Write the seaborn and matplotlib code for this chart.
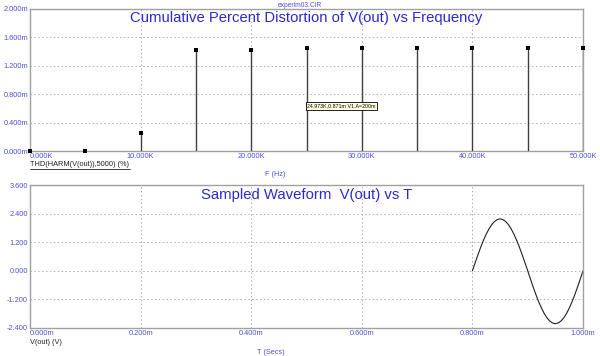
import numpy as np
import pandas as pd
import matplotlib
matplotlib.use("Agg")
import matplotlib.pyplot as plt
from matplotlib.lines import Line2D
import seaborn as sns

# THD vs frequency (stems), values in m%
freq_k = [0, 5, 10, 15, 20, 25, 30, 35, 40, 45, 50]
thd_m = [0.0, 0.005, 0.253, 1.418, 1.422, 1.441, 1.440, 1.440, 1.450, 1.450, 1.450]

# sampled waveform V(out), time in ms
t_ms = [0.800, 0.805, 0.810, 0.815, 0.820, 0.825, 0.830, 0.835, 0.840, 0.845,
        0.850, 0.855, 0.860, 0.865, 0.870, 0.875, 0.880, 0.885, 0.890, 0.895,
        0.900, 0.905, 0.910, 0.915, 0.920, 0.925, 0.930, 0.935, 0.940, 0.945,
        0.950, 0.955, 0.960, 0.965, 0.970, 0.975, 0.980, 0.985, 0.990, 0.995, 1.000]
v_out = [0.00, 0.34, 0.67, 0.99, 1.28, 1.54, 1.76, 1.94, 2.07, 2.15,
         2.18, 2.15, 2.07, 1.94, 1.76, 1.54, 1.28, 0.99, 0.67, 0.34,
         0.00, -0.35, -0.69, -1.01, -1.31, -1.57, -1.80, -1.98, -2.11, -2.19,
         -2.22, -2.19, -2.11, -1.98, -1.80, -1.57, -1.31, -1.01, -0.69, -0.35, 0.00]

thd_ticks = [0.0, 0.4, 0.8, 1.2, 1.6, 2.0]
f_ticks = [0, 10, 20, 30, 40, 50]
v_ticks = [-2.4, -1.2, 0.0, 1.2, 2.4, 3.6]
t_ticks = [0.0, 0.2, 0.4, 0.6, 0.8, 1.0]

sns.set_style("white")
plt.rcParams['font.family'] = ['Liberation Sans', 'DejaVu Sans']

BLUE = "#2a2acc"
TICKC = "#5050d0"
GRID = "#b0b0b0"
FS = 5.3

fig = plt.figure(figsize=(6, 3.56), dpi=100)
ax1 = fig.add_axes([0.05, 0.5758, 0.9217, 0.4002])
ax2 = fig.add_axes([0.05, 0.0787, 0.9217, 0.4016])

def style(ax):
    for s in ax.spines.values():
        s.set_color("#a0a0a0")
        s.set_linewidth(1.0)
    ax.grid(True, color=GRID, linestyle=(0, (1.5, 2.5)), linewidth=0.7)
    ax.tick_params(length=0, labelsize=FS, labelcolor=TICKC, pad=1.5)

# top: THD stems
df1 = pd.DataFrame({"F": freq_k, "THD": thd_m})
ax1.vlines(df1["F"], 0, df1["THD"], color="#404040", linewidth=1.0, zorder=3)
sns.scatterplot(data=df1, x="F", y="THD", ax=ax1, marker="s", s=9,
                color="black", edgecolor="black", linewidth=0, zorder=4, clip_on=False)
ax1.set_xlim(0, 50)
ax1.set_ylim(0, 2.0)
ax1.set_xticks(f_ticks)
ax1.set_yticks(thd_ticks)
ax1.set_xticklabels([f"{v:.3f}K" for v in f_ticks])
ax1.set_yticklabels([f"{v:.3f}m" for v in thd_ticks])
ax1.set_xlabel("")
ax1.set_ylabel("")
style(ax1)
ax1.get_xticklabels()[0].set_horizontalalignment("left")
ax1.text(0.5, 0.935, "Cumulative Percent Distortion of V(out) vs Frequency",
         transform=ax1.transAxes, ha="center", va="center", fontsize=10.7, color=BLUE)
ax1.text(25.05, 0.632, "24.973K,0.871m V1.A=200m", fontsize=3.8,
         ha="left", va="center", color="black",
         bbox=dict(boxstyle="square,pad=0.2", fc="#ffffe0", ec="black", lw=0.6), zorder=6)

# bottom: waveform
df2 = pd.DataFrame({"T": t_ms, "V": v_out})
sns.lineplot(data=df2, x="T", y="V", ax=ax2, color="#202020", linewidth=0.8)
ax2.set_xlim(0, 1.0)
ax2.set_ylim(-2.4, 3.6)
ax2.set_xticks(t_ticks)
ax2.set_yticks(v_ticks)
ax2.set_xticklabels([f"{v:.3f}m" for v in t_ticks])
ax2.set_yticklabels([f"{v:.3f}" for v in v_ticks])
ax2.set_xlabel("")
ax2.set_ylabel("")
style(ax2)
ax2.get_xticklabels()[0].set_horizontalalignment("left")
ax2.text(0.5, 0.93, "Sampled Waveform  V(out) vs T",
         transform=ax2.transAxes, ha="center", va="center", fontsize=10.7, color=BLUE)

# figure texts
fig.text(0.5, 0.995, "experim03.CIR", ha="center", va="top", fontsize=4.8, color=TICKC)
fig.text(0.05, 1 - 164.5 / 356, "THD(HARM(V(out)),5000) (%)", ha="left", va="center",
         fontsize=FS, color="#202020")
fig.add_artist(Line2D([30 / 600, 130 / 600], [1 - 168.5 / 356] * 2, color="#202020",
                      linewidth=0.6, transform=fig.transFigure))
fig.text(0.458, 1 - 175 / 356, "F (Hz)", ha="center", va="center", fontsize=FS, color=TICKC)
fig.text(0.05, 1 - 343 / 356, "V(out) (V)", ha="left", va="center", fontsize=FS, color="#202020")
fig.text(0.452, 1 - 352 / 356, "T (Secs)", ha="center", va="center", fontsize=FS, color=TICKC)

fig.savefig("out.png", dpi=100)
